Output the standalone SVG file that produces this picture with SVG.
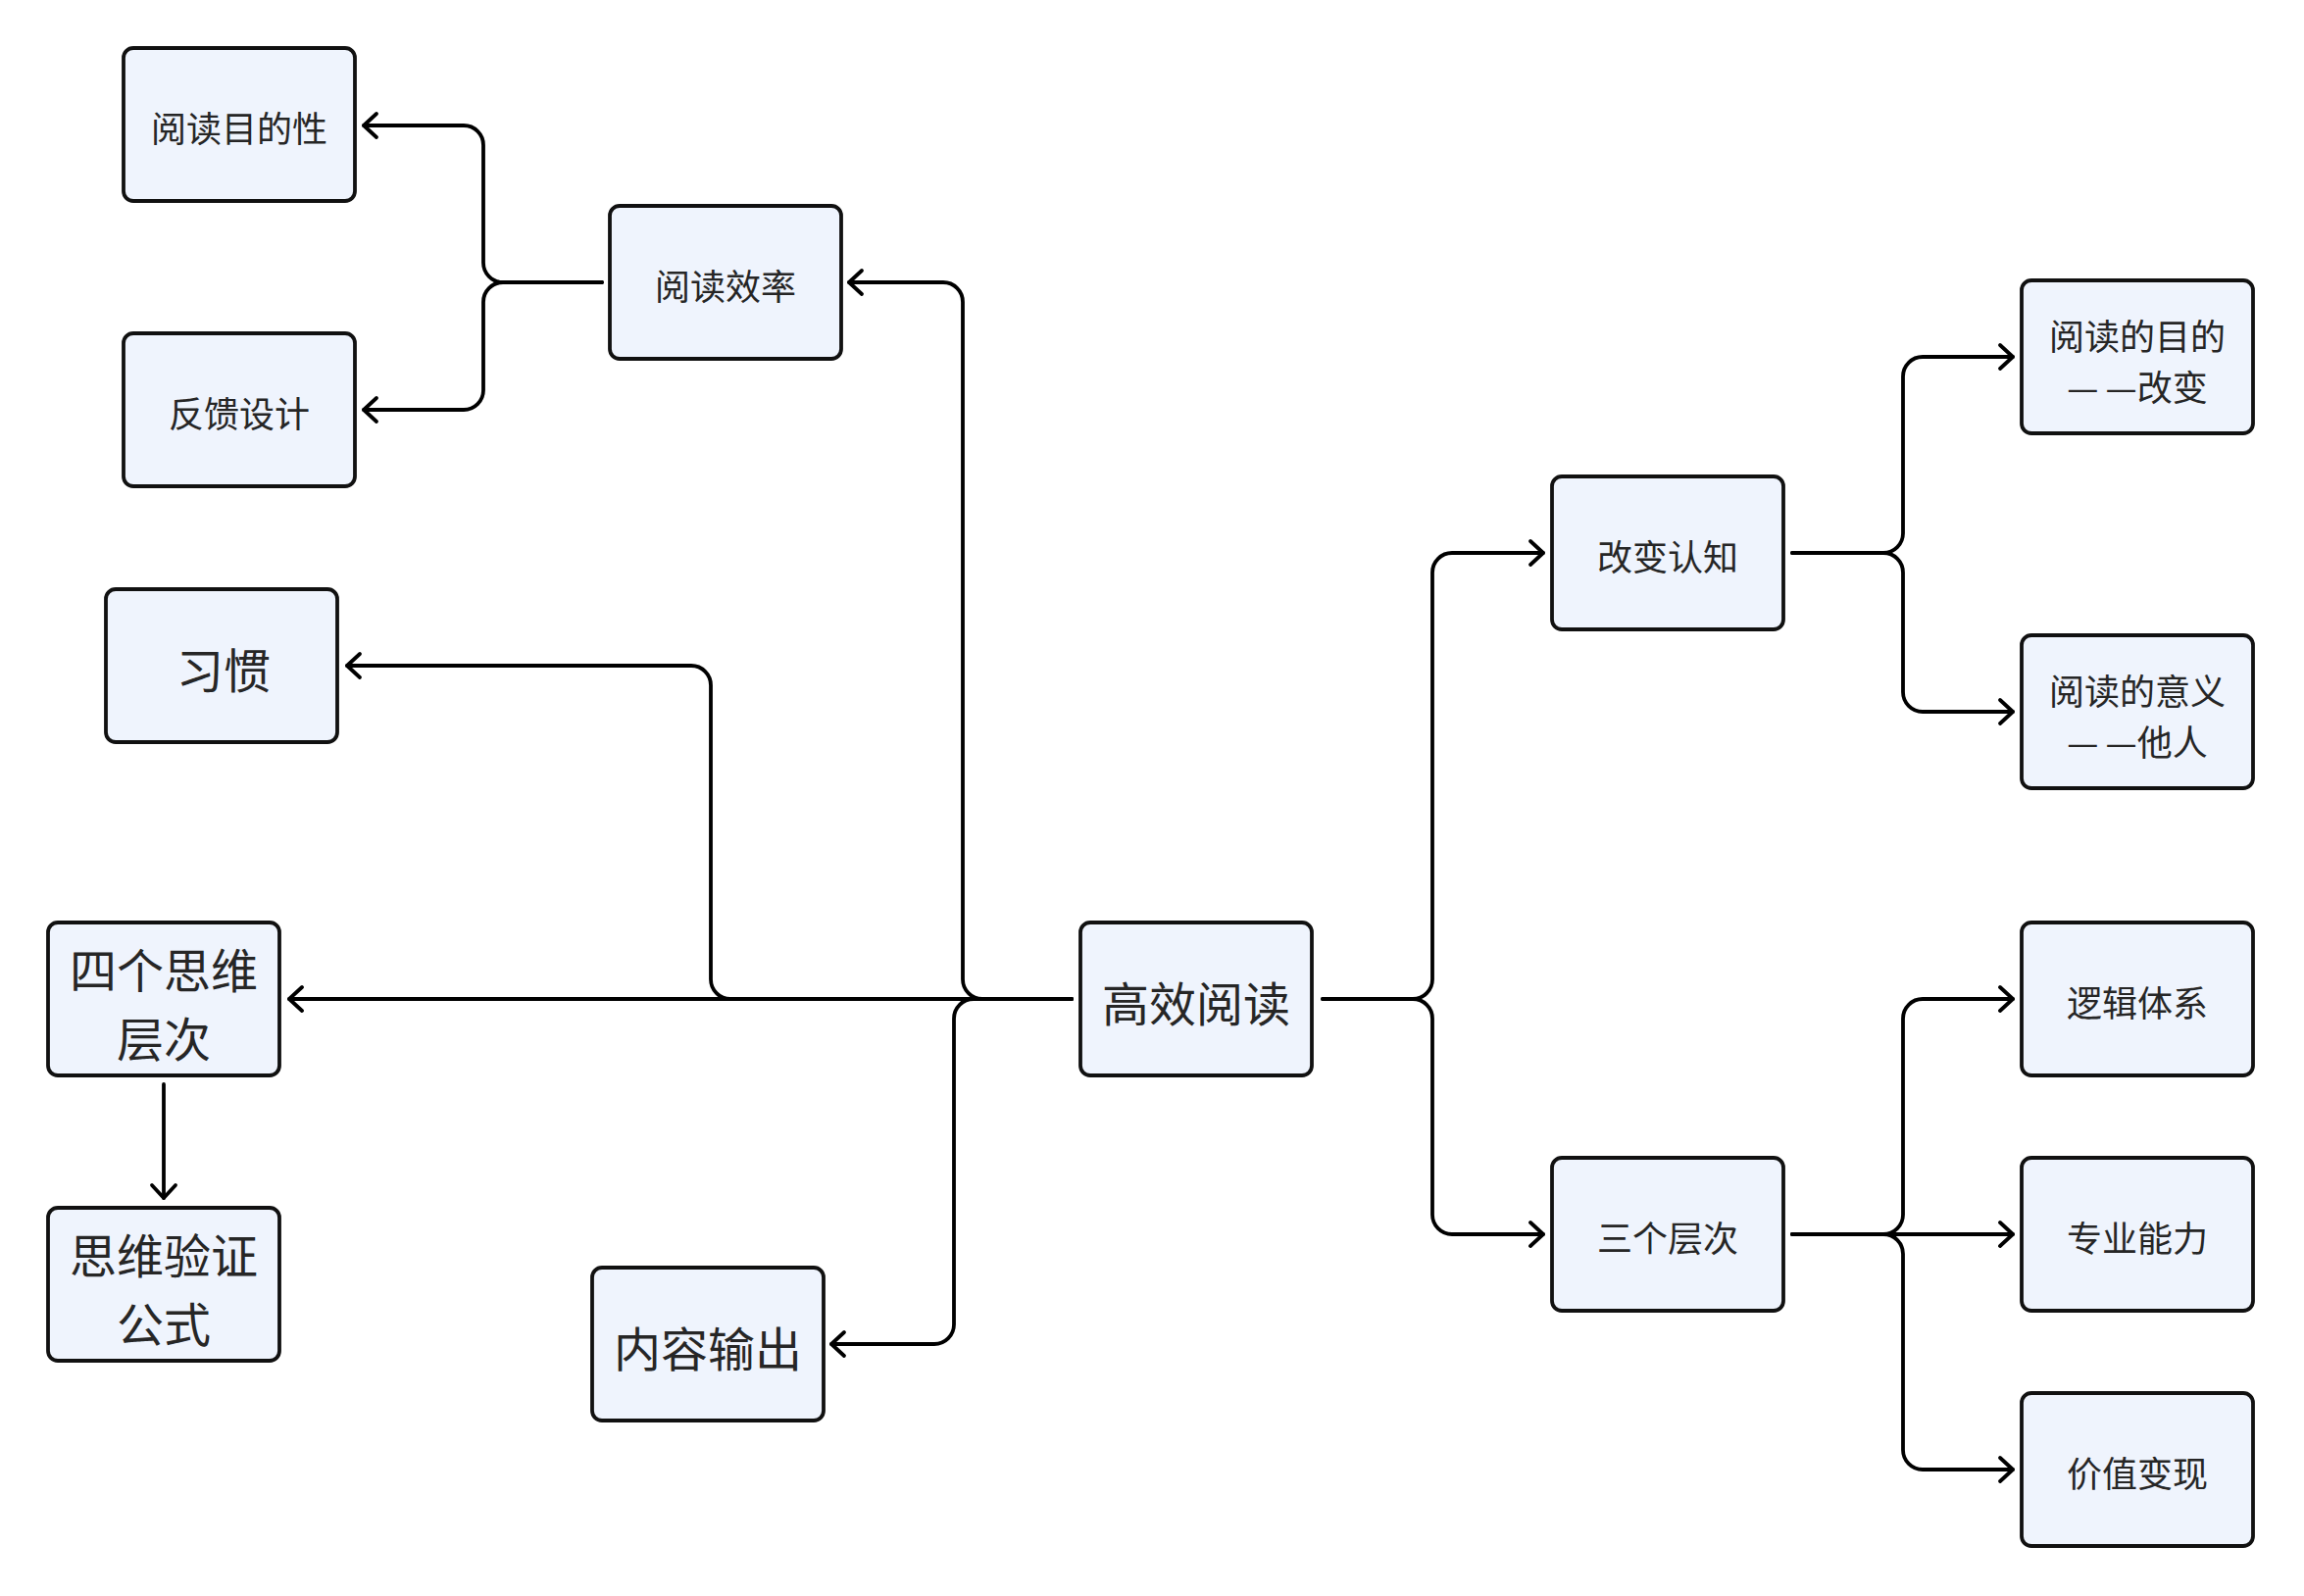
<svg xmlns="http://www.w3.org/2000/svg" width="2350" height="1628" viewBox="0 0 2350 1628">
<defs>
<style>
.box{fill:#eff4fd;stroke:#111;stroke-width:3.8}
.t{font-family:"Noto Sans CJK SC","Noto Sans",sans-serif;fill:#262626;text-anchor:middle;dominant-baseline:central}
.s{font-size:36px}
.l{font-size:48px}
.c{fill:none;stroke:#000;stroke-width:3.8;stroke-linejoin:round;stroke-linecap:round}
.d{letter-spacing:7px}
</style>
<marker id="ah" markerUnits="userSpaceOnUse" markerWidth="30" markerHeight="30" refX="0" refY="0" viewBox="-16 -15 20 30" orient="auto">
<path d="M-13 -12 L0 0 L-13 12" fill="none" stroke="#000" stroke-width="3.8" stroke-linecap="round" stroke-linejoin="round"/>
</marker>
</defs>
<rect width="2350" height="1628" fill="#fff"/>
<g id="connectors">
<path class="c" marker-end="url(#ah)" d="M1349 1019 H1441 A20 20 0 0 0 1461 999 V584 A20 20 0 0 1 1481 564 H1574"/>
<path class="c" marker-end="url(#ah)" d="M1349 1019 H1441 A20 20 0 0 1 1461 1039 V1239 A20 20 0 0 0 1481 1259 H1574"/>
<path class="c" marker-end="url(#ah)" d="M1093 1019 H1002 A20 20 0 0 1 982 999 V308 A20 20 0 0 0 962 288 H866"/>
<path class="c" marker-end="url(#ah)" d="M1093 1019 H993 A20 20 0 0 0 973 1039 V1351 A20 20 0 0 1 953 1371 H848"/>
<path class="c" marker-end="url(#ah)" d="M1093 1019 H745 A20 20 0 0 1 725 999 V699 A20 20 0 0 0 705 679 H354"/>
<path class="c" marker-end="url(#ah)" d="M1093 1019 H295"/>
<path class="c" marker-end="url(#ah)" d="M614 288 H513 A20 20 0 0 1 493 268 V148 A20 20 0 0 0 473 128 H371"/>
<path class="c" marker-end="url(#ah)" d="M614 288 H513 A20 20 0 0 0 493 308 V398 A20 20 0 0 1 473 418 H371"/>
<path class="c" marker-end="url(#ah)" d="M1828 564 H1921 A20 20 0 0 0 1941 544 V384 A20 20 0 0 1 1961 364 H2053"/>
<path class="c" marker-end="url(#ah)" d="M1828 564 H1921 A20 20 0 0 1 1941 584 V706 A20 20 0 0 0 1961 726 H2053"/>
<path class="c" marker-end="url(#ah)" d="M1828 1259 H1921 A20 20 0 0 0 1941 1239 V1039 A20 20 0 0 1 1961 1019 H2053"/>
<path class="c" marker-end="url(#ah)" d="M1828 1259 H2053"/>
<path class="c" marker-end="url(#ah)" d="M1828 1259 H1921 A20 20 0 0 1 1941 1279 V1479 A20 20 0 0 0 1961 1499 H2053"/>
<path class="c" marker-end="url(#ah)" d="M167 1106 V1222"/>
</g>
<g id="n1"><rect class="box" x="126" y="49" width="236" height="156" rx="10"/><text class="t s" x="244" y="129">阅读目的性</text></g>
<g id="n2"><rect class="box" x="126" y="340" width="236" height="156" rx="10"/><text class="t s" x="244" y="420">反馈设计</text></g>
<g id="n3"><rect class="box" x="622" y="210" width="236" height="156" rx="10"/><text class="t s" x="740" y="290">阅读效率</text></g>
<g id="n4"><rect class="box" x="108" y="601" width="236" height="156" rx="10"/><text class="t l" x="228" y="681">习惯</text></g>
<g id="n5"><rect class="box" x="49" y="941" width="236" height="156" rx="10"/><text class="t l"><tspan x="167" y="987">四个思维</tspan><tspan x="167" y="1057">层次</tspan></text></g>
<g id="n6"><rect class="box" x="49" y="1232" width="236" height="156" rx="10"/><text class="t l"><tspan x="167" y="1278">思维验证</tspan><tspan x="167" y="1348">公式</tspan></text></g>
<g id="n7"><rect class="box" x="604" y="1293" width="236" height="156" rx="10"/><text class="t l" x="722" y="1373">内容输出</text></g>
<g id="n8"><rect class="box" x="1102" y="941" width="236" height="156" rx="10"/><text class="t l" x="1220" y="1021">高效阅读</text></g>
<g id="n9"><rect class="box" x="1583" y="486" width="236" height="156" rx="10"/><text class="t s" x="1701" y="566">改变认知</text></g>
<g id="n10"><rect class="box" x="1583" y="1181" width="236" height="156" rx="10"/><text class="t s" x="1701" y="1261">三个层次</text></g>
<g id="n11"><rect class="box" x="2062" y="286" width="236" height="156" rx="10"/><text class="t s"><tspan x="2180" y="341">阅读的目的</tspan><tspan x="2180" y="393"><tspan class="d">—</tspan>—改变</tspan></text></g>
<g id="n12"><rect class="box" x="2062" y="648" width="236" height="156" rx="10"/><text class="t s"><tspan x="2180" y="703">阅读的意义</tspan><tspan x="2180" y="755"><tspan class="d">—</tspan>—他人</tspan></text></g>
<g id="n13"><rect class="box" x="2062" y="941" width="236" height="156" rx="10"/><text class="t s" x="2180" y="1021">逻辑体系</text></g>
<g id="n14"><rect class="box" x="2062" y="1181" width="236" height="156" rx="10"/><text class="t s" x="2180" y="1261">专业能力</text></g>
<g id="n15"><rect class="box" x="2062" y="1421" width="236" height="156" rx="10"/><text class="t s" x="2180" y="1501">价值变现</text></g>
</svg>
